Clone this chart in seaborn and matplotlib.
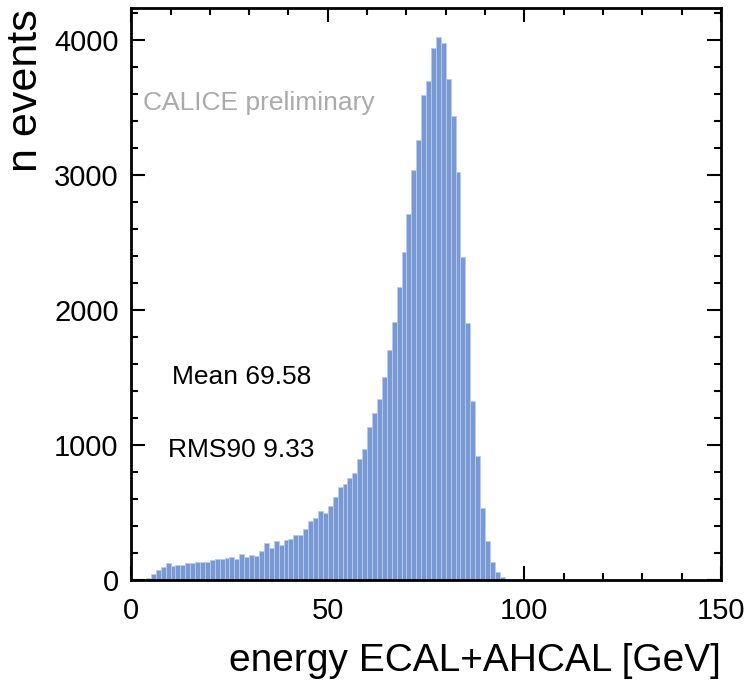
import numpy as np
import pandas as pd
import matplotlib
matplotlib.use("Agg")
import matplotlib.pyplot as plt
from matplotlib.ticker import MultipleLocator
import seaborn as sns

# ---------------------------------------------------------------------------
# Data: event counts per 1.25 GeV bin, starting at 0 GeV
# ---------------------------------------------------------------------------

BIN_WIDTH = 1.25
X_RANGE = (0, 150)
counts = [
    0, 0, 0, 17, 42, 74, 99, 123, 104, 111,
    111, 123, 123, 136, 136, 136, 148, 153, 153, 160,
    173, 153, 195, 173, 185, 180, 215, 272, 235, 289,
    259, 296, 301, 333, 333, 378, 439, 457, 514, 494,
    548, 617, 691, 709, 758, 795, 894, 970, 1131, 1235,
    1338, 1506, 1704, 1914, 2173, 2432, 2709, 3037, 3259, 3593,
    3699, 3938, 4020, 3975, 3709, 3437, 3025, 2390, 1901, 1326,
    919, 536, 291, 136, 62, 25, 8,
]
stat_lines = ["Mean 69.58", "RMS90 9.33"]
stamp = "CALICE preliminary"

BAR_COLOR = "#7899D3"
EDGE_COLOR = "#B9CAEB"

sns.set_style("ticks")
plt.rcParams["font.family"] = ["Liberation Sans", "DejaVu Sans"]

df = pd.DataFrame({
    "energy": X_RANGE[0] + BIN_WIDTH * (np.arange(len(counts)) + 0.5),
    "n": counts,
})

fig = plt.figure(figsize=(7.51, 6.93), dpi=100)
ax = fig.add_axes([0.1747, 0.163, 0.7853, 0.8255])

sns.histplot(data=df, x="energy", weights="n", binwidth=BIN_WIDTH,
             binrange=X_RANGE, ax=ax,
             color=BAR_COLOR, edgecolor=EDGE_COLOR, linewidth=0.6, alpha=1)

ax.set_xlim(*X_RANGE)
ax.set_ylim(0, 4237)

ax.xaxis.set_major_locator(MultipleLocator(50))
ax.xaxis.set_minor_locator(MultipleLocator(10))
ax.yaxis.set_major_locator(MultipleLocator(1000))
ax.yaxis.set_minor_locator(MultipleLocator(200))
ax.tick_params(which="both", direction="in", top=True, right=True,
               width=1.5, color="black", labelcolor="black", labelsize=21)
ax.tick_params(axis="x", pad=12)
ax.tick_params(axis="y", pad=9)
ax.tick_params(which="major", length=10)
ax.tick_params(which="minor", length=5)
for sp in ax.spines.values():
    sp.set_linewidth(2)
    sp.set_color("black")

ax.set_xlabel("energy ECAL+AHCAL [GeV]", fontsize=28, color="black", loc="right")
ax.xaxis.set_label_coords(1.0, -0.11)
ax.set_ylabel("n events", fontsize=31, color="black", loc="top")
ax.yaxis.set_label_coords(-0.145, 0.997)

ax.text(3.0, 3533, stamp, fontsize=19, color="#AAAAAA", va="center", ha="left")
ax.text(10.4, 1504, stat_lines[0], fontsize=19, color="black", va="center", ha="left")
ax.text(9.4, 963, stat_lines[1], fontsize=19, color="black", va="center", ha="left")

fig.savefig("out.png", dpi=100)
plt.close(fig)
